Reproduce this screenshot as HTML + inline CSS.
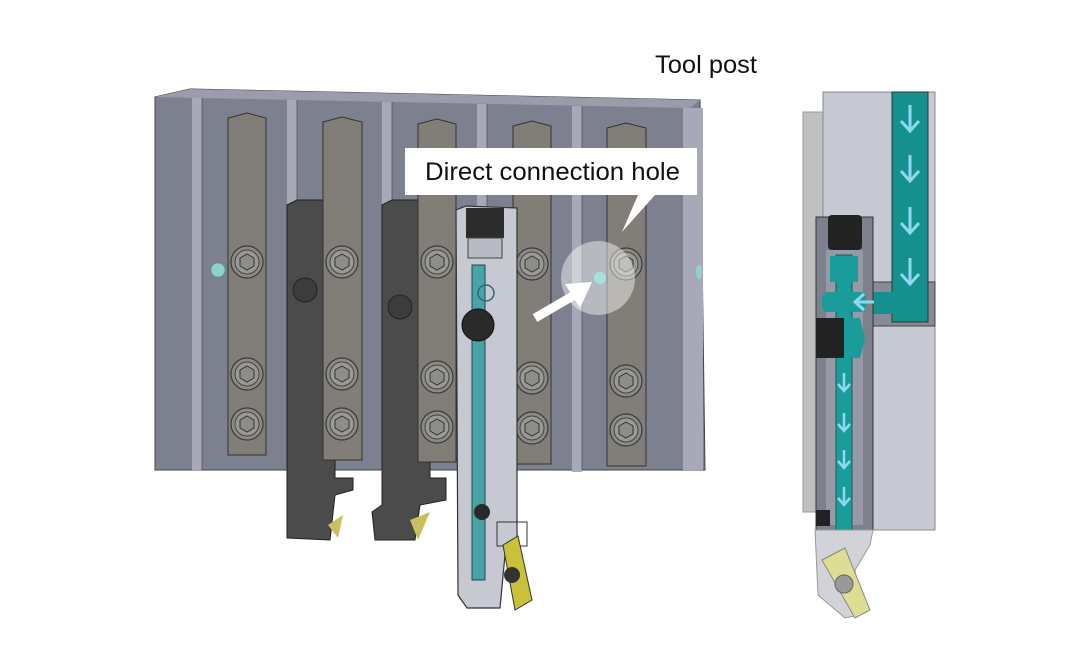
<!DOCTYPE html>
<html><head><style>
html,body{margin:0;padding:0;background:#fff;}
svg{display:block}
text{font-family:"Liberation Sans",Arial,sans-serif;}
</style></head><body>
<svg width="1088" height="672" viewBox="0 0 1088 672" xmlns="http://www.w3.org/2000/svg">
<defs>
<g id="bolt"><circle r="16" fill="#8a8a86" stroke="#3a3a3a" stroke-width="1.2"/><circle r="12" fill="#9a9994" stroke="#444" stroke-width="1"/><polygon points="0,-8 7,-4 7,4 0,8 -7,4 -7,-4" fill="#8e8d88" stroke="#333" stroke-width="1"/></g>
</defs>
<!-- back plate -->
<polygon points="155,97 190,89 700,100 705,470 155,470" fill="#7d808e" stroke="#444" stroke-width="1"/>
<polygon points="155,97 190,89 700,100 690,108 200,98" fill="#9a9cab"/>
<g fill="#a7a9b8">
<rect x="192" y="98" width="10" height="372"/>
<rect x="287" y="100" width="10" height="372"/>
<rect x="382" y="102" width="10" height="370"/>
<rect x="477" y="104" width="10" height="368"/>
<rect x="572" y="106" width="10" height="366"/>
<rect x="683" y="108" width="20" height="362"/>
</g>
<g stroke="#555" stroke-width="0.8">
<line x1="202" y1="98" x2="202" y2="470"/><line x1="297" y1="100" x2="297" y2="470"/><line x1="392" y1="102" x2="392" y2="470"/><line x1="487" y1="104" x2="487" y2="470"/><line x1="582" y1="106" x2="582" y2="470"/>
</g>
<!-- holes -->
<circle cx="218" cy="270" r="7" fill="#8fd2d0" stroke="#3a6" stroke-width="0.5"/>
<ellipse cx="699" cy="272" rx="3" ry="7" fill="#8fd2d0"/>
<!-- dark holders (behind plates) -->
<g fill="#4b4b4c" stroke="#222" stroke-width="1">
<path d="M287,205 L297,200 L330,200 L330,460 L335,460 L335,478 L353,478 L353,490 L335,495 L330,540 L287,538 Z"/>
<path d="M382,205 L392,200 L425,200 L425,460 L430,462 L430,478 L446,478 L446,500 L420,505 L415,540 L375,540 L372,512 L382,505 Z"/>
</g>
<polygon points="328,525 343,515 338,538" fill="#c8c060"/>
<polygon points="410,520 430,512 418,540" fill="#c8c060"/>
<circle cx="305" cy="290" r="12" fill="#3c3c3c" stroke="#222"/>
<circle cx="400" cy="307" r="12" fill="#3c3c3c" stroke="#222"/>
<!-- plates -->
<g fill="#807e77" stroke="#333" stroke-width="1">
<polygon points="228,118 247,113 266,118 266,455 228,455"/>
<polygon points="323,122 342,117 362,122 362,460 323,460"/>
<polygon points="418,124 437,119 456,124 456,462 418,462"/>
<polygon points="513,126 532,121 551,126 551,464 513,464"/>
<polygon points="607,128 626,123 646,128 646,466 607,466"/>
</g>
<!-- bolts on plates -->
<use href="#bolt" x="247" y="262"/><use href="#bolt" x="247" y="374"/><use href="#bolt" x="247" y="424"/>
<use href="#bolt" x="342" y="262"/><use href="#bolt" x="342" y="374"/><use href="#bolt" x="342" y="424"/>
<use href="#bolt" x="437" y="262"/><use href="#bolt" x="437" y="377"/><use href="#bolt" x="437" y="427"/>
<use href="#bolt" x="532" y="264"/><use href="#bolt" x="532" y="378"/><use href="#bolt" x="532" y="428"/>
<use href="#bolt" x="626" y="264"/><use href="#bolt" x="626" y="381"/><use href="#bolt" x="626" y="430"/>
<!-- transparent holder -->
<polygon points="456,210 466,206 517,208 517,540 505,555 500,608 467,608 458,595" fill="#c6c8d2" stroke="#333" stroke-width="1.2"/>
<rect x="472" y="265" width="13" height="315" fill="#4aa3a6" stroke="#1c4a4c" stroke-width="1"/>
<rect x="466" y="208" width="38" height="30" fill="#2c2c2c"/>
<rect x="468" y="238" width="34" height="20" fill="#b8bac4" stroke="#444"/>
<circle cx="478" cy="325" r="16" fill="#2a2a2a" stroke="#111"/>
<circle cx="486" cy="293" r="8" fill="none" stroke="#2a6a6a" stroke-width="1.5"/>
<circle cx="482" cy="512" r="8" fill="#2a2a2a"/>
<rect x="497" y="522" width="30" height="24" fill="none" stroke="#333"/>
<polygon points="503,545 518,536 532,600 515,610" fill="#c9c13a" stroke="#333"/>
<circle cx="512" cy="575" r="8" fill="#333"/>
<!-- white arrow -->
<line x1="535" y1="318" x2="578" y2="293" stroke="#fff" stroke-width="9"/>
<polygon points="592,282 565,284 580,308" fill="#fff"/>
<circle cx="598" cy="278" r="37" fill="#fff" fill-opacity="0.45"/>
<circle cx="600" cy="278" r="6" fill="#a8e0dc"/>
<!-- callout -->
<polygon points="405,148 697,148 697,195 655,195 622,232 638,195 405,195" fill="#fff"/>
<text x="425" y="180" font-size="25" fill="#111" textLength="255" lengthAdjust="spacingAndGlyphs">Direct connection hole</text>
<text x="655" y="73" font-size="25" fill="#111" textLength="102" lengthAdjust="spacingAndGlyphs">Tool post</text>
<!-- right cross-section -->
<rect x="803" y="112" width="20" height="400" fill="#c0c0c0" stroke="#999" stroke-width="1"/>
<rect x="823" y="92" width="112" height="438" fill="#c8cad3" stroke="#888" stroke-width="1"/>
<rect x="870" y="282" width="65" height="44" fill="#878a97" stroke="#444"/>
<rect x="892" y="92" width="36" height="230" fill="#14908f" stroke="#333"/>
<rect x="860" y="292" width="34" height="22" fill="#14908f"/>
<g stroke="#8fd8f0" stroke-width="3" fill="none">
<path d="M910,105 v26 M901,121 l9,10 l9,-10"/>
<path d="M910,155 v26 M901,171 l9,10 l9,-10"/>
<path d="M910,207 v26 M901,223 l9,10 l9,-10"/>
<path d="M910,258 v26 M901,274 l9,10 l9,-10"/>
</g>
<rect x="816" y="217" width="57" height="313" fill="#7d808d" stroke="#333"/>
<rect x="826" y="250" width="37" height="275" fill="#9799a6"/>
<rect x="836" y="255" width="16" height="275" fill="#1a9c9a" stroke="#14605f"/>
<rect x="830" y="256" width="28" height="26" fill="#1a9c9a"/>
<rect x="822" y="292" width="44" height="20" rx="6" fill="#1a9c9a"/>
<path d="M874,302 h-18 M864,294 l-9,8 l9,8" stroke="#8fd8f0" stroke-width="3" fill="none"/>
<rect x="828" y="215" width="34" height="35" rx="4" fill="#222"/>
<rect x="816" y="318" width="28" height="40" fill="#222"/>
<polygon points="844,318 860,318 865,338 860,358 844,358" fill="#1a9c9a"/>
<rect x="816" y="510" width="14" height="16" fill="#222"/>
<g stroke="#8fd8f0" stroke-width="2.5" fill="none">
<path d="M844,373 v18 M838,384 l6,7 l6,-7"/>
<path d="M844,413 v18 M838,424 l6,7 l6,-7"/>
<path d="M844,450 v18 M838,461 l6,7 l6,-7"/>
<path d="M844,487 v18 M838,498 l6,7 l6,-7"/>
</g>
<polygon points="815,530 873,530 870,545 855,570 860,615 845,618 818,595" fill="#d2d3d8" stroke="#999"/>
<polygon points="822,560 845,548 870,610 855,618" fill="#dfdc93" stroke="#888"/>
<circle cx="844" cy="584" r="9" fill="#999" stroke="#666"/>
</svg>
</body></html>
